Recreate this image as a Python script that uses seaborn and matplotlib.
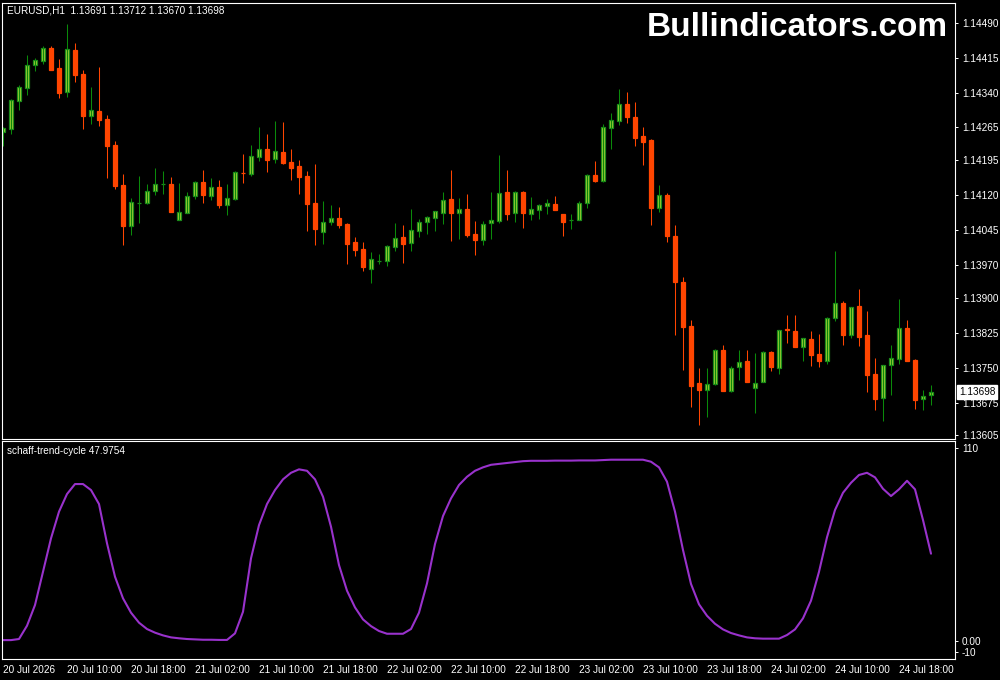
import numpy as np
import pandas as pd
import matplotlib
matplotlib.use("Agg")
import matplotlib.pyplot as plt
import seaborn as sns
from matplotlib.transforms import blended_transform_factory

# ---------------- data (EURUSD H1, from 20 Jul 2026 02:00) ----------------
opens = [1.14255, 1.14262, 1.14322, 1.14350, 1.14399, 1.14408, 1.14435, 1.14392, 1.14342, 1.14431,
         1.14379, 1.14290, 1.14300, 1.14283, 1.14227, 1.14142, 1.14054, 1.14103, 1.14103, 1.14129,
         1.14144, 1.14144, 1.14067, 1.14082, 1.14118, 1.14148, 1.14118, 1.14137, 1.14099, 1.14112,
         1.14168, 1.14166, 1.14202, 1.14219, 1.14198, 1.14212, 1.14191, 1.14182, 1.14161, 1.14103,
         1.14041, 1.14062, 1.14071, 1.14058, 1.14019, 1.14004, 1.13962, 1.13979, 1.13979, 1.14009,
         1.14030, 1.14017, 1.14043, 1.14062, 1.14071, 1.14082, 1.14112, 1.14082, 1.14090, 1.14037,
         1.14024, 1.14061, 1.14064, 1.14127, 1.14082, 1.14127, 1.14079, 1.14088, 1.14097, 1.14101,
         1.14079, 1.14067, 1.14067, 1.14103, 1.14163, 1.14150, 1.14264, 1.14279, 1.14315, 1.14287,
         1.14247, 1.14238, 1.14092, 1.14120, 1.14032, 1.13934, 1.13839, 1.13717, 1.13702, 1.13715,
         1.13788, 1.13700, 1.13752, 1.13764, 1.13707, 1.13719, 1.13784, 1.13749, 1.13832, 1.13829,
         1.13794, 1.13812, 1.13779, 1.13764, 1.13856, 1.13889, 1.13820, 1.13882, 1.13820, 1.13737,
         1.13685, 1.13756, 1.13769, 1.13835, 1.13767, 1.13683, 1.13691]
highs = [1.14266, 1.14326, 1.14356, 1.14420, 1.14415, 1.14439, 1.14439, 1.14412, 1.14487, 1.14446,
         1.14388, 1.14352, 1.14394, 1.14292, 1.14236, 1.14165, 1.14114, 1.14161, 1.14144, 1.14178,
         1.14172, 1.14159, 1.14146, 1.14127, 1.14150, 1.14174, 1.14157, 1.14152, 1.14144, 1.14172,
         1.14208, 1.14227, 1.14266, 1.14251, 1.14279, 1.14277, 1.14219, 1.14195, 1.14172, 1.14187,
         1.14107, 1.14099, 1.14094, 1.14060, 1.14030, 1.14019, 1.13998, 1.13994, 1.14013, 1.14060,
         1.14056, 1.14090, 1.14069, 1.14075, 1.14086, 1.14127, 1.14174, 1.14114, 1.14122, 1.14064,
         1.14064, 1.14127, 1.14206, 1.14174, 1.14129, 1.14129, 1.14116, 1.14101, 1.14112, 1.14118,
         1.14079, 1.14079, 1.14107, 1.14165, 1.14193, 1.14272, 1.14296, 1.14347, 1.14341, 1.14319,
         1.14266, 1.14240, 1.14142, 1.14124, 1.14056, 1.13944, 1.13852, 1.13749, 1.13749, 1.13790,
         1.13799, 1.13754, 1.13788, 1.13788, 1.13782, 1.13786, 1.13786, 1.13831, 1.13863, 1.13863,
         1.13814, 1.13829, 1.13822, 1.13859, 1.14000, 1.13893, 1.13880, 1.13919, 1.13872, 1.13771,
         1.13756, 1.13799, 1.13897, 1.13852, 1.13769, 1.13702, 1.13712]
lows = [1.14225, 1.14251, 1.14302, 1.14334, 1.14386, 1.14401, 1.14388, 1.14328, 1.14330, 1.14362,
        1.14262, 1.14272, 1.14268, 1.14157, 1.14133, 1.14013, 1.14034, 1.14060, 1.14101, 1.14120,
        1.14122, 1.14084, 1.14067, 1.14082, 1.14112, 1.14103, 1.14109, 1.14092, 1.14077, 1.14109,
        1.14146, 1.14162, 1.14194, 1.14169, 1.14189, 1.14187, 1.14152, 1.14122, 1.14043, 1.14013,
        1.14015, 1.14056, 1.14049, 1.13972, 1.13989, 1.13957, 1.13932, 1.13972, 1.13968, 1.14000,
        1.13974, 1.14000, 1.14030, 1.14037, 1.14043, 1.14058, 1.14022, 1.14026, 1.14030, 1.13992,
        1.14013, 1.14026, 1.14060, 1.14067, 1.14062, 1.14049, 1.14067, 1.14069, 1.14079, 1.14088,
        1.14032, 1.14047, 1.14067, 1.14092, 1.14148, 1.14148, 1.14219, 1.14270, 1.14274, 1.14225,
        1.14184, 1.14056, 1.14084, 1.14019, 1.13820, 1.13745, 1.13666, 1.13627, 1.13644, 1.13713,
        1.13700, 1.13698, 1.13724, 1.13719, 1.13653, 1.13719, 1.13743, 1.13737, 1.13803, 1.13794,
        1.13764, 1.13754, 1.13752, 1.13758, 1.13850, 1.13799, 1.13814, 1.13796, 1.13698, 1.13659,
        1.13636, 1.13692, 1.13758, 1.13764, 1.13662, 1.13659, 1.13670]
closes = [1.14264, 1.14324, 1.14352, 1.14400, 1.14409, 1.14435, 1.14388, 1.14339, 1.14433, 1.14377,
          1.14289, 1.14302, 1.14281, 1.14225, 1.14139, 1.14054, 1.14105, 1.14103, 1.14129, 1.14144,
          1.14144, 1.14084, 1.14084, 1.14118, 1.14148, 1.14120, 1.14137, 1.14099, 1.14114, 1.14169,
          1.14167, 1.14204, 1.14218, 1.14195, 1.14214, 1.14189, 1.14179, 1.14159, 1.14101, 1.14047,
          1.14062, 1.14071, 1.14056, 1.14015, 1.14002, 1.13966, 1.13983, 1.13979, 1.14011, 1.14028,
          1.14015, 1.14045, 1.14062, 1.14073, 1.14086, 1.14109, 1.14082, 1.14090, 1.14034, 1.14024,
          1.14058, 1.14067, 1.14124, 1.14079, 1.14127, 1.14082, 1.14090, 1.14099, 1.14103, 1.14088,
          1.14062, 1.14067, 1.14103, 1.14163, 1.14150, 1.14266, 1.14281, 1.14315, 1.14287, 1.14242,
          1.14234, 1.14092, 1.14120, 1.14032, 1.13934, 1.13837, 1.13711, 1.13702, 1.13715, 1.13788,
          1.13700, 1.13749, 1.13762, 1.13719, 1.13717, 1.13784, 1.13752, 1.13831, 1.13830, 1.13794,
          1.13814, 1.13777, 1.13764, 1.13856, 1.13889, 1.13820, 1.13880, 1.13816, 1.13734, 1.13683,
          1.13756, 1.13771, 1.13835, 1.13764, 1.13681, 1.13689, 1.13698]
stc = [0.4, 0.4, 1.0, 8.3, 19.7, 38.0, 56.4, 71.1, 80.8, 86.3,
       86.3, 83.0, 75.3, 53.7, 35.3, 23.4, 15.5, 10.0, 6.5, 4.5,
       3.0, 1.9, 1.4, 1.0, 0.8, 0.6, 0.6, 0.5, 0.5, 4.1,
       16.0, 45.4, 63.7, 75.3, 83.0, 88.9, 92.5, 94.4, 93.6, 88.9,
       79.3, 62.8, 41.7, 27.6, 18.4, 11.8, 8.1, 5.4, 3.9, 3.9,
       3.9, 6.5, 15.5, 31.6, 53.3, 68.7, 78.4, 85.8, 90.3, 93.6,
       95.5, 96.9, 97.4, 97.9, 98.4, 98.9, 99.1, 99.1, 99.1, 99.2,
       99.2, 99.2, 99.3, 99.3, 99.3, 99.5, 99.7, 99.7, 99.7, 99.7,
       99.7, 98.6, 95.5, 87.6, 71.1, 50.0, 31.3, 20.1, 13.8, 9.4,
       6.3, 4.3, 3.0, 1.9, 1.4, 1.2, 1.2, 1.2, 3.2, 6.3,
       12.4, 22.1, 38.0, 57.0, 72.0, 81.5, 87.0, 91.3, 92.5, 90.0,
       83.7, 79.7, 83.4, 88.1, 83.4, 66.5, 47.9754]

symbol_text = "EURUSD,H1  1.13691 1.13712 1.13670 1.13698"
indicator_name = "schaff-trend-cycle 47.9754"
watermark = "Bullindicators.com"
price_ticks = [1.14490, 1.14415, 1.14340, 1.14265, 1.14195, 1.14120, 1.14045,
               1.13970, 1.13900, 1.13825, 1.13750, 1.13675, 1.13605]
time_labels = ["20 Jul 2026", "20 Jul 10:00", "20 Jul 18:00", "21 Jul 02:00", "21 Jul 10:00",
               "21 Jul 18:00", "22 Jul 02:00", "22 Jul 10:00", "22 Jul 18:00", "23 Jul 02:00",
               "23 Jul 10:00", "23 Jul 18:00", "24 Jul 02:00", "24 Jul 10:00", "24 Jul 18:00"]
stc_tick_labels = ["110", "0.00", "-10"]
last_price = 1.13698

# ---------------- styling ----------------
sns.set_theme(style="dark", rc={
    "axes.facecolor": "black", "figure.facecolor": "black",
    "axes.edgecolor": "white", "axes.grid": False,
    "text.color": "white", "xtick.color": "white", "ytick.color": "white",
})
plt.rcParams["font.family"] = ["Liberation Sans", "DejaVu Sans"]

GREEN_EDGE = "#1c8c1c"
GREEN_FILL = "#9acd32"
RED = "#ff4500"
PURPLE = "#9932cc"
FS = 7.2

df = pd.DataFrame({"o": opens, "h": highs, "l": lows, "c": closes, "stc": stc})
df["i"] = np.arange(len(df))
bull = df["c"] >= df["o"]

fig = plt.figure(figsize=(10, 6.8), dpi=100)
ax = fig.add_axes([0.002, 1 - 439 / 680, 0.953, (439 - 2.5) / 680])
ax2 = fig.add_axes([0.002, 1 - 659 / 680, 0.953, (659 - 441) / 680], sharex=ax)

# wicks
ax.vlines(df["i"], df["l"], df["h"], colors=np.where(bull, "#0a8a0a", RED), linewidth=0.75)
# bodies
bottoms = np.minimum(df["o"], df["c"])
heights = np.maximum(np.abs(df["c"] - df["o"]), 0.000004)
ax.bar(df["i"], heights, bottom=bottoms, width=0.56,
       color=np.where(bull, GREEN_FILL, RED), edgecolor=np.where(bull, GREEN_EDGE, RED),
       linewidth=0.9)

ax.set_xlim(-0.125, 119)
ax.set_ylim(1.13597, 1.14533)
ax.yaxis.tick_right()
ax.set_yticks(price_ticks)
ax.set_yticklabels([f"{p:.5f}" for p in price_ticks])
ax.tick_params(axis="y", which="both", direction="out", length=2.5, width=0.7,
               pad=2.5, labelsize=FS, colors="white")
ax.tick_params(axis="x", bottom=False, labelbottom=False)
for s in ax.spines.values():
    s.set_color("white")
    s.set_linewidth(0.8)

# current price box
tr = blended_transform_factory(ax.transAxes, ax.transData)
ax.text(1.0045, last_price, f"{last_price:.5f}", transform=tr, ha="left", va="center",
        fontsize=FS, color="black",
        bbox=dict(facecolor="white", edgecolor="white", boxstyle="square,pad=0.18"))

# ---------------- indicator ----------------
sns.lineplot(data=df, x="i", y="stc", ax=ax2, color=PURPLE, linewidth=1.5)
ax2.set_ylim(-10, 110)
ax2.yaxis.tick_right()
ax2.set_yticks([106, 0, -6.3])
ax2.set_yticklabels(stc_tick_labels)
ax2.tick_params(axis="y", direction="out", length=2.5, width=0.7, pad=2.5,
                labelsize=FS, colors="white")
ax2.set_xticks(np.arange(0, len(df), 8)[:len(time_labels)])
ax2.set_xticklabels(time_labels)
ax2.tick_params(axis="x", direction="out", length=2.5, width=0.7, pad=1.5,
                labelsize=FS, colors="white")
for lbl in ax2.get_xticklabels():
    lbl.set_ha("left")
ax2.set_xlabel("")
ax2.set_ylabel("")
ax.set_ylabel("")
for s in ax2.spines.values():
    s.set_color("white")
    s.set_linewidth(0.8)
ax2.set_xlim(-0.125, 119)

# ---------------- texts ----------------
fig.text(7 / 1000, 1 - 10.5 / 680, symbol_text, ha="left", va="center", fontsize=FS, color="white")
fig.text(7 / 1000, 1 - 451 / 680, indicator_name, ha="left", va="center", fontsize=FS, color="white")
fig.text(948 / 1000, 1 - 28 / 680, watermark, ha="right", va="center", fontsize=24,
         fontweight="bold", family=["Liberation Sans", "DejaVu Sans"], color="white")

fig.savefig("out.png", dpi=100, facecolor="black")
